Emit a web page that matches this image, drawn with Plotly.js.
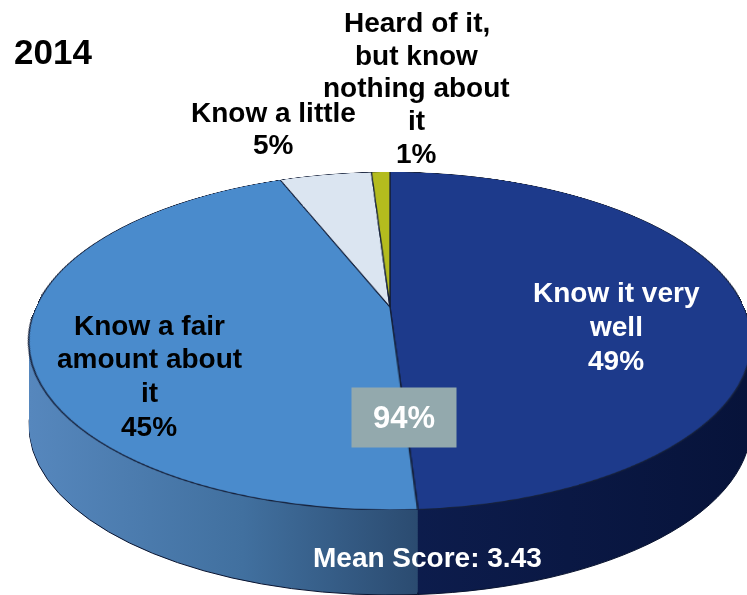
<!DOCTYPE html>
<html>
<head>
<meta charset="utf-8">
<script src="https://cdn.plot.ly/plotly-3.0.1.min.js"></script>
<style>
  html, body { margin: 0; padding: 0; background: #ffffff; overflow: hidden; }
  #wrap { position: relative; width: 747px; height: 595px; overflow: hidden; background: #ffffff; }
  #side, #labels { position: absolute; left: 0; top: 0; width: 747px; height: 595px; }
  #top {
    position: absolute; left: 36px; top: -47px; width: 708px; height: 708px;
    transform-origin: 354px 354px;
    transform: perspective(1563px) rotateX(62.73deg);
  }
</style>
</head>
<body>
<div id="wrap">
  <div id="side"></div>
  <div id="top"></div>
  <div id="labels"></div>
</div>
<script>
// ---- data ----
const year = '2014';
const categories = ['Know it very well', 'Know a fair amount about it', 'Know a little', 'Heard of it, but know nothing about it'];
const values = [49, 45, 5, 1];
const labelLines = [
  ['Know it very', 'well'],
  ['Know a fair', 'amount about', 'it'],
  ['Know a little'],
  ['Heard of it,', 'but know', 'nothing about', 'it']
];
const meanScore = '3.43';

// ---- styling ----
const W = 747, H = 595;
const topColors  = ['#1d3a8b', '#4a8bcc', '#dbe5f1', '#b4bc1e'];
const sideColors = ['#0b1a46', '#3a6797', '#a8b4c4', '#7c8215'];
const CX = 390, CY = 341, RX = 361, RY = 169;
const DEPTH = 85, STEP = 2;
const FONT = 'Liberation Sans, Arial, sans-serif';
const CFG = {staticPlot: true, displayModeBar: false};

// ---------- side (depth) layers ----------
const offsets = [];
for (let d = DEPTH; d > 0; d -= STEP) offsets.push(d);
const sdomain = {x: [0.25, 0.75], y: [0.2, 0.8]};
const sideTraces = offsets.map((off, i) => ({
  type: 'pie', values: values, labels: categories, sort: false,
  direction: 'clockwise', rotation: -0.83,
  textinfo: 'none', hoverinfo: 'skip', showlegend: false, domain: sdomain,
  marker: {colors: sideColors, line: {color: '#0a1430', width: i === 0 ? 1 : 0}}
}));
const sideLayout = {width: W, height: H, margin: {l: 0, r: 0, t: 0, b: 0},
  paper_bgcolor: '#ffffff', plot_bgcolor: '#ffffff', showlegend: false};

const gdSide = document.getElementById('side');
Plotly.newPlot(gdSide, sideTraces, sideLayout, CFG).then(() => {
  const ns = 'http://www.w3.org/2000/svg';
  const svg = gdSide.querySelector('svg.main-svg');
  let defs = svg.querySelector('defs');
  if (!defs) { defs = document.createElementNS(ns, 'defs'); svg.insertBefore(defs, svg.firstChild); }
  function grad(id, stops) {
    const lg = document.createElementNS(ns, 'linearGradient');
    lg.setAttribute('id', id);
    lg.setAttribute('x1', '0'); lg.setAttribute('y1', '0');
    lg.setAttribute('x2', '1'); lg.setAttribute('y2', '0');
    stops.forEach(([o, c]) => {
      const s = document.createElementNS(ns, 'stop');
      s.setAttribute('offset', o); s.setAttribute('stop-color', c);
      lg.appendChild(s);
    });
    defs.appendChild(lg);
  }
  grad('sideLight', [['0', '#5687bd'], ['0.55', '#41709f'], ['1', '#2b4b70']]);
  grad('sideDark', [['0', '#0d1d4e'], ['1', '#07133a']]);

  gdSide.querySelectorAll('.pielayer g.trace').forEach((g, i) => {
    const cd = (gdSide.calcdata && gdSide.calcdata[i] && gdSide.calcdata[i][0]) || {};
    const r = cd.r || Math.min(W * 0.5, H * 0.6) / 2;
    const cx0 = cd.cx || W * 0.5;
    const cy0 = cd.cy || H * 0.5;
    g.setAttribute('transform',
      'translate(' + CX + ',' + (CY + offsets[i]) + ') scale(' + (RX / r) + ',' + (RY / r) + ') translate(' + (-cx0) + ',' + (-cy0) + ')');
    g.querySelectorAll('path.surface').forEach((p, j) => {
      p.setAttribute('vector-effect', 'non-scaling-stroke');
      if (j === 1) p.style.fill = 'url(#sideLight)';
      if (j === 0) p.style.fill = 'url(#sideDark)';
    });
  });
});

// ---------- top surface (tilted in perspective) ----------
const topTrace = {
  type: 'pie', values: values, labels: categories, sort: false,
  direction: 'clockwise', rotation: 0,
  textinfo: 'none', hoverinfo: 'skip', showlegend: false,
  domain: {x: [0, 1], y: [0, 1]},
  marker: {colors: topColors, line: {color: '#15203a', width: 1.4}}
};
Plotly.newPlot('top', [topTrace], {width: 708, height: 708, margin: {l: 0, r: 0, t: 0, b: 0},
  paper_bgcolor: 'rgba(0,0,0,0)', plot_bgcolor: 'rgba(0,0,0,0)', showlegend: false}, CFG);

// ---------- text labels ----------
const annotations = [];
function addLine(text, x, baseline, size, color, extra) {
  const yc = baseline - 0.3465 * size;
  annotations.push(Object.assign({
    text: '<b>' + text + '</b>',
    x: x / W, y: 1 - yc / H, xref: 'paper', yref: 'paper',
    xanchor: 'center', yanchor: 'middle', showarrow: false,
    font: {family: FONT, size: size, color: color}
  }, extra || {}));
}
function addBlock(lines, x, firstBaseline, spacing, size, color) {
  lines.forEach((t, k) => addLine(t, x, firstBaseline + k * spacing, size, color));
}
const pct = values.map(v => v + '%');
addBlock(labelLines[0].concat([pct[0]]), 616, 302, 34, 28, '#ffffff');
addBlock(labelLines[1].concat([pct[1]]), 149, 335, 33.7, 28, '#000000');
addBlock(labelLines[2].concat([pct[2]]), 273, 122, 32, 28, '#000000');
addBlock(labelLines[3].concat([pct[3]]), 417, 32, 32.8, 28, '#000000');
addLine(year, 53, 64, 35, '#000000');
addLine('Mean Score: ' + meanScore, 427, 567, 28, '#ffffff');
// combined share of the top two categories
addLine((values[0] + values[1]) + '%', 404, 430, 31, '#ffffff',
  {bgcolor: '#93a9ad', width: 100, height: 55, borderpad: 2, y: 1 - 417.5 / H, valign: 'middle'});

Plotly.newPlot('labels', [], {
  width: W, height: H, margin: {l: 0, r: 0, t: 0, b: 0},
  paper_bgcolor: 'rgba(0,0,0,0)', plot_bgcolor: 'rgba(0,0,0,0)',
  xaxis: {visible: false}, yaxis: {visible: false}, showlegend: false,
  annotations: annotations
}, CFG);
</script>
</body>
</html>
